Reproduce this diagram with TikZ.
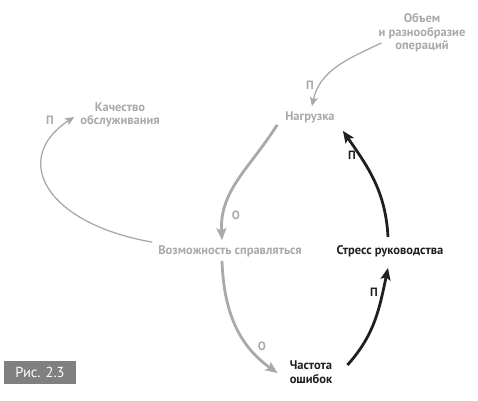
\documentclass[tikz,border=0pt]{standalone}
\usepackage{fontspec}
\setmainfont{PT Sans}
\usepackage{tikz}
\usetikzlibrary{positioning,arrows.meta,calc}

\definecolor{lightgr}{HTML}{A7A9AC}
\definecolor{darkbl}{HTML}{231F20}
\definecolor{figgr}{HTML}{808080}

\begin{document}
\begin{tikzpicture}[x=1pt,y=1pt,
        var/.style={font=\bfseries\fontsize{12.5}{13.5}\selectfont, inner sep=2pt},
        grayvar/.style={var, text=lightgr},
        blackvar/.style={var, text=darkbl},
        sign/.style={font=\bfseries\fontsize{12}{12}\selectfont, inner sep=1pt},
        thinlink/.style={draw=lightgr, line width=1.3pt, -{Stealth[length=9pt,width=8pt,inset=2pt]}},
        thicklink/.style={draw=lightgr, line width=2.8pt, -{Stealth[length=12pt,width=10pt,inset=2.5pt]}},
        blacklink/.style={thicklink, draw=darkbl}]
    \useasboundingbox (0,0) rectangle (478,400);

    % variables
    \node[grayvar, align=center] (obem) at (422,367) {Объем\\и разнообразие\\операций};
    \node[grayvar] (nagr) at (310,283) {Нагрузка};
    \node[grayvar, align=center] (kach) at (120,285) {Качество\\обслуживания};
    \node[grayvar] (vozm) at (230,149) {Возможность справляться};
    \node[blackvar] (stress) at (390,149) {Стресс руководства};
    \node[blackvar, align=left] (chast) at (311,28) {Частота\\ошибок};
    \node[fill=figgr, text=white, minimum width=72pt, minimum height=23pt,
          font=\fontsize{14.5}{16}\selectfont] (fig) at (40,27.5) {Рис. 2.3};

    % links
    \draw[thinlink] ([shift={(5,-10)}]obem.west) to[out=205,in=78] ([shift={(2,3)}]nagr.north);
    \draw[thicklink] ([xshift=-6pt]nagr.south west) to[out=238,in=93] ([shift={(-8,3)}]vozm.north);
    \draw[thinlink] ([shift={(-4,1)}]vozm.north west) to[out=170,in=213,out distance=110pt,in distance=75pt] ([shift={(-4,-2)}]kach.west);
    \draw[thicklink] ([shift={(-8,-2)}]vozm.south) to[out=272,in=145] ([shift={(-10,-1)}]chast.west);
    \draw[blacklink] ([shift={(13,7)}]chast.east) to[out=48,in=258] ([shift={(-2,-9)}]stress.south);
    \draw[blacklink] ([shift={(-2,6)}]stress.north) to[out=93,in=-55] ([shift={(6,-6)}]nagr.south east);

    % polarities
    \node[sign, text=lightgr] (p1) at (310,315) {П};
    \node[sign, text=lightgr] (o2) at (236,185) {О};
    \node[sign, text=lightgr] (p3) at (50,280) {П};
    \node[sign, text=lightgr] (o4) at (262,54) {О};
    \node[sign, text=darkbl] (p5) at (374,108) {П};
    \node[sign, text=darkbl] (p6) at (352,245) {П};
\end{tikzpicture}
\end{document}
